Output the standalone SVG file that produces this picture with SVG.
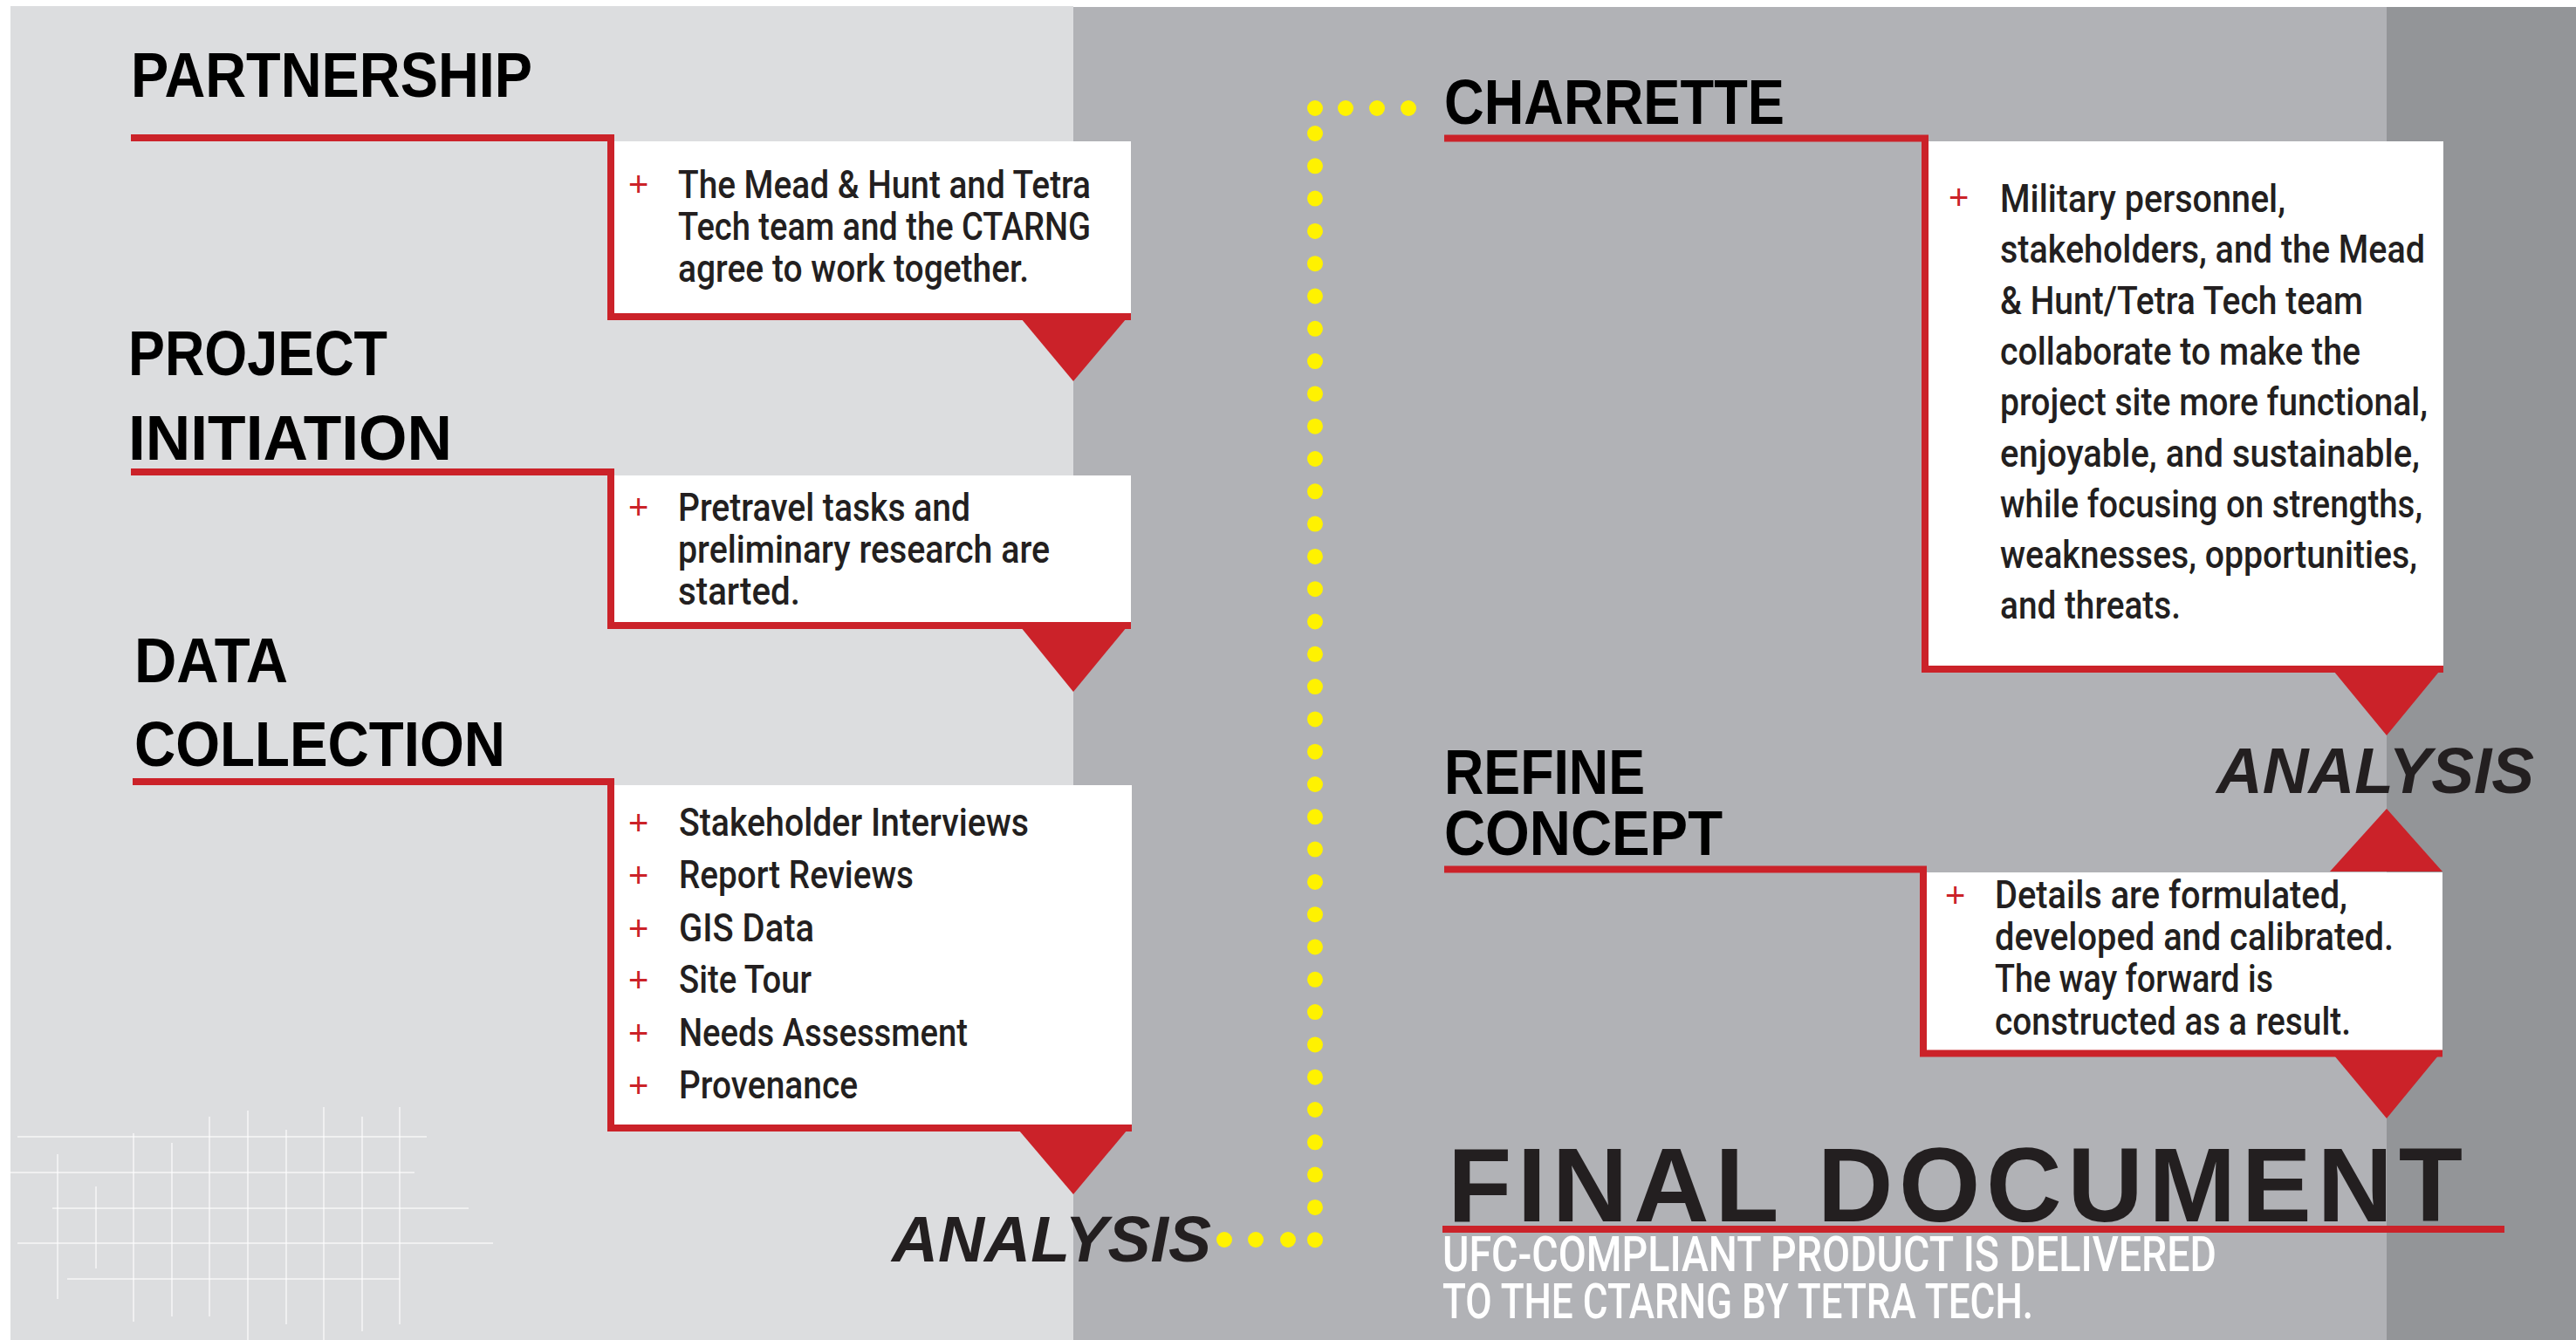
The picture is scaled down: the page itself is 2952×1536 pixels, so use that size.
<svg xmlns="http://www.w3.org/2000/svg" width="2952" height="1536" viewBox="0 0 2952 1536">
<style>
.h{font-family:"Liberation Sans",Arial,sans-serif;font-weight:700;font-size:72px;fill:#000}
.b{font-family:Roboto,"Liberation Sans",Arial,sans-serif;font-weight:500;font-size:45px;fill:#231f20}
.p{font-family:"Liberation Sans",Arial,sans-serif;font-size:40px;fill:#cb2229}
.an{font-family:"Liberation Sans",Arial,sans-serif;font-weight:700;font-style:italic;font-size:75px;fill:#231f20}
.fd{font-family:"Liberation Sans",Arial,sans-serif;font-weight:700;font-size:120px;fill:#231f20}
.sub{font-family:Roboto,"Liberation Sans",Arial,sans-serif;font-weight:500;font-size:55px;fill:#fff}
.red{fill:none;stroke:#cb2229;stroke-width:8}
.tri{fill:#cb2229}
.box{fill:#fff}
.dot{fill:#fff200}
.grid line{stroke:#fff;stroke-opacity:.75;stroke-width:1.5}
</style>
<rect x="0" y="0" width="2952" height="1536" fill="#fff"/>
<rect x="12" y="7" width="1218" height="1529" fill="#dcdddf"/>
<rect x="1230" y="8" width="1505" height="1528" fill="#b1b2b6"/>
<rect x="2735" y="8" width="217" height="1528" fill="#939598"/>
<g class="grid">
<line x1="20" y1="1303" x2="489" y2="1303"/>
<line x1="12" y1="1344" x2="475" y2="1344"/>
<line x1="60" y1="1385" x2="537" y2="1385"/>
<line x1="20" y1="1425" x2="565" y2="1425"/>
<line x1="77" y1="1466" x2="458" y2="1466"/>
<line x1="66" y1="1323" x2="66" y2="1489"/>
<line x1="110" y1="1360" x2="110" y2="1454"/>
<line x1="153" y1="1299" x2="153" y2="1515"/>
<line x1="197" y1="1310" x2="197" y2="1509"/>
<line x1="240" y1="1280" x2="240" y2="1509"/>
<line x1="284" y1="1273" x2="284" y2="1536"/>
<line x1="328" y1="1295" x2="328" y2="1518"/>
<line x1="371" y1="1269" x2="371" y2="1536"/>
<line x1="415" y1="1280" x2="415" y2="1526"/>
<line x1="458" y1="1269" x2="458" y2="1518"/>
</g>
<g id="connectors">
<circle class="dot" cx="1614" cy="124" r="9"/>
<circle class="dot" cx="1578" cy="124" r="9"/>
<circle class="dot" cx="1542" cy="124" r="9"/>
<circle class="dot" cx="1507" cy="124" r="9"/>
<circle class="dot" cx="1507" cy="153" r="9"/>
<circle class="dot" cx="1507" cy="190.3" r="9"/>
<circle class="dot" cx="1507" cy="227.6" r="9"/>
<circle class="dot" cx="1507" cy="264.9" r="9"/>
<circle class="dot" cx="1507" cy="302.2" r="9"/>
<circle class="dot" cx="1507" cy="339.5" r="9"/>
<circle class="dot" cx="1507" cy="376.8" r="9"/>
<circle class="dot" cx="1507" cy="414.1" r="9"/>
<circle class="dot" cx="1507" cy="451.4" r="9"/>
<circle class="dot" cx="1507" cy="488.7" r="9"/>
<circle class="dot" cx="1507" cy="526" r="9"/>
<circle class="dot" cx="1507" cy="563.3" r="9"/>
<circle class="dot" cx="1507" cy="600.6" r="9"/>
<circle class="dot" cx="1507" cy="637.9" r="9"/>
<circle class="dot" cx="1507" cy="675.2" r="9"/>
<circle class="dot" cx="1507" cy="712.5" r="9"/>
<circle class="dot" cx="1507" cy="749.8" r="9"/>
<circle class="dot" cx="1507" cy="787.1" r="9"/>
<circle class="dot" cx="1507" cy="824.4" r="9"/>
<circle class="dot" cx="1507" cy="861.7" r="9"/>
<circle class="dot" cx="1507" cy="899" r="9"/>
<circle class="dot" cx="1507" cy="936.3" r="9"/>
<circle class="dot" cx="1507" cy="973.6" r="9"/>
<circle class="dot" cx="1507" cy="1010.9" r="9"/>
<circle class="dot" cx="1507" cy="1048.2" r="9"/>
<circle class="dot" cx="1507" cy="1085.5" r="9"/>
<circle class="dot" cx="1507" cy="1122.8" r="9"/>
<circle class="dot" cx="1507" cy="1160.1" r="9"/>
<circle class="dot" cx="1507" cy="1197.4" r="9"/>
<circle class="dot" cx="1507" cy="1234.7" r="9"/>
<circle class="dot" cx="1507" cy="1272" r="9"/>
<circle class="dot" cx="1507" cy="1309.3" r="9"/>
<circle class="dot" cx="1507" cy="1346.6" r="9"/>
<circle class="dot" cx="1507" cy="1383.9" r="9"/>
<circle class="dot" cx="1507" cy="1421.2" r="9"/>
<circle class="dot" cx="1476" cy="1421" r="9"/>
<circle class="dot" cx="1439" cy="1421" r="9"/>
<circle class="dot" cx="1403" cy="1421" r="9"/>
</g>
<g id="partnership">
<text class="h" x="150" y="111" textLength="460" lengthAdjust="spacingAndGlyphs">PARTNERSHIP</text>
<rect class="box" x="700" y="162" width="596" height="201"/>
<polyline class="red" points="150,158 700,158 700,363 1296,363"/>
<polygon class="tri" points="1165,359 1296,359 1230,437"/>
<text class="p" x="720" y="225">+</text>
<text class="b" x="777" y="227" textLength="473" lengthAdjust="spacingAndGlyphs">The Mead &amp; Hunt and Tetra</text>
<text class="b" x="777" y="275" textLength="473" lengthAdjust="spacingAndGlyphs">Tech team and the CTARNG</text>
<text class="b" x="777" y="323" textLength="402" lengthAdjust="spacingAndGlyphs">agree to work together.</text>
</g>
<g id="project-initiation">
<text class="h" x="147" y="430" textLength="297" lengthAdjust="spacingAndGlyphs">PROJECT</text>
<text class="h" x="147" y="527" textLength="371" lengthAdjust="spacingAndGlyphs">INITIATION</text>
<rect class="box" x="700" y="545" width="596" height="172"/>
<polyline class="red" points="150,541 700,541 700,717 1296,717"/>
<polygon class="tri" points="1165,713 1296,713 1230,793"/>
<text class="p" x="720" y="595">+</text>
<text class="b" x="777" y="597" textLength="335" lengthAdjust="spacingAndGlyphs">Pretravel tasks and</text>
<text class="b" x="777" y="645" textLength="426" lengthAdjust="spacingAndGlyphs">preliminary research are</text>
<text class="b" x="777" y="693" textLength="140" lengthAdjust="spacingAndGlyphs">started.</text>
</g>
<g id="data-collection">
<text class="h" x="154" y="782" textLength="176" lengthAdjust="spacingAndGlyphs">DATA</text>
<text class="h" x="154" y="878" textLength="425" lengthAdjust="spacingAndGlyphs">COLLECTION</text>
<rect class="box" x="700" y="900" width="597" height="393"/>
<polyline class="red" points="152,896 700,896 700,1293 1297,1293"/>
<polygon class="tri" points="1162,1289 1297,1289 1230,1369"/>
<text class="p" x="720" y="957">+</text>
<text class="b" x="778" y="958" textLength="401" lengthAdjust="spacingAndGlyphs">Stakeholder Interviews</text>
<text class="p" x="720" y="1017">+</text>
<text class="b" x="778" y="1018" textLength="269" lengthAdjust="spacingAndGlyphs">Report Reviews</text>
<text class="p" x="720" y="1078">+</text>
<text class="b" x="778" y="1079" textLength="155" lengthAdjust="spacingAndGlyphs">GIS Data</text>
<text class="p" x="720" y="1137">+</text>
<text class="b" x="778" y="1138" textLength="152" lengthAdjust="spacingAndGlyphs">Site Tour</text>
<text class="p" x="720" y="1198">+</text>
<text class="b" x="778" y="1199" textLength="331" lengthAdjust="spacingAndGlyphs">Needs Assessment</text>
<text class="p" x="720" y="1258">+</text>
<text class="b" x="778" y="1259" textLength="205" lengthAdjust="spacingAndGlyphs">Provenance</text>
</g>
<g id="analysis-1">
<text class="an" x="1022" y="1446" textLength="366" lengthAdjust="spacingAndGlyphs">ANALYSIS</text>
</g>
<g id="charrette">
<text class="h" x="1655" y="142" textLength="390" lengthAdjust="spacingAndGlyphs">CHARRETTE</text>
<rect class="box" x="2206" y="162" width="594" height="605"/>
<polyline class="red" points="1655,158.5 2206,158.5 2206,767 2800,767"/>
<polygon class="tri" points="2670,764 2800,764 2735,843"/>
<text class="p" x="2233" y="240">+</text>
<text class="b" x="2292" y="243" textLength="327" lengthAdjust="spacingAndGlyphs">Military personnel,</text>
<text class="b" x="2292" y="301" textLength="487" lengthAdjust="spacingAndGlyphs">stakeholders, and the Mead</text>
<text class="b" x="2292" y="360" textLength="416" lengthAdjust="spacingAndGlyphs">&amp; Hunt/Tetra Tech team</text>
<text class="b" x="2292" y="418" textLength="413" lengthAdjust="spacingAndGlyphs">collaborate to make the</text>
<text class="b" x="2292" y="476" textLength="490" lengthAdjust="spacingAndGlyphs">project site more functional,</text>
<text class="b" x="2292" y="535" textLength="481" lengthAdjust="spacingAndGlyphs">enjoyable, and sustainable,</text>
<text class="b" x="2292" y="593" textLength="484" lengthAdjust="spacingAndGlyphs">while focusing on strengths,</text>
<text class="b" x="2292" y="651" textLength="478" lengthAdjust="spacingAndGlyphs">weaknesses, opportunities,</text>
<text class="b" x="2292" y="709" textLength="207" lengthAdjust="spacingAndGlyphs">and threats.</text>
</g>
<g id="analysis-2">
<text class="an" x="2540" y="909" textLength="364" lengthAdjust="spacingAndGlyphs">ANALYSIS</text>
<polygon class="tri" points="2670,999 2799,999 2735,927"/>
</g>
<g id="refine-concept">
<text class="h" x="1655" y="910" textLength="230" lengthAdjust="spacingAndGlyphs">REFINE</text>
<text class="h" x="1655" y="980" textLength="319" lengthAdjust="spacingAndGlyphs">CONCEPT</text>
<rect class="box" x="2204" y="1000" width="595" height="207"/>
<polyline class="red" points="1655,996.5 2204,996.5 2204,1207.5 2799,1207.5"/>
<polygon class="tri" points="2670,1204 2799,1204 2735,1282"/>
<text class="p" x="2229" y="1040">+</text>
<text class="b" x="2286" y="1041" textLength="404" lengthAdjust="spacingAndGlyphs">Details are formulated,</text>
<text class="b" x="2286" y="1089" textLength="457" lengthAdjust="spacingAndGlyphs">developed and calibrated.</text>
<text class="b" x="2286" y="1137" textLength="319" lengthAdjust="spacingAndGlyphs">The way forward is</text>
<text class="b" x="2286" y="1186" textLength="408" lengthAdjust="spacingAndGlyphs">constructed as a result.</text>
</g>
<g id="final-document">
<text class="fd" x="1659" y="1400" textLength="1163" lengthAdjust="spacing">FINAL DOCUMENT</text>
<line x1="1653" y1="1409" x2="2870" y2="1409" stroke="#cb2229" stroke-width="8"/>
<text class="sub" x="1653" y="1457" textLength="887" lengthAdjust="spacingAndGlyphs">UFC-COMPLIANT PRODUCT IS DELIVERED</text>
<text class="sub" x="1653" y="1511" textLength="677" lengthAdjust="spacingAndGlyphs">TO THE CTARNG BY TETRA TECH.</text>
</g>
</svg>
